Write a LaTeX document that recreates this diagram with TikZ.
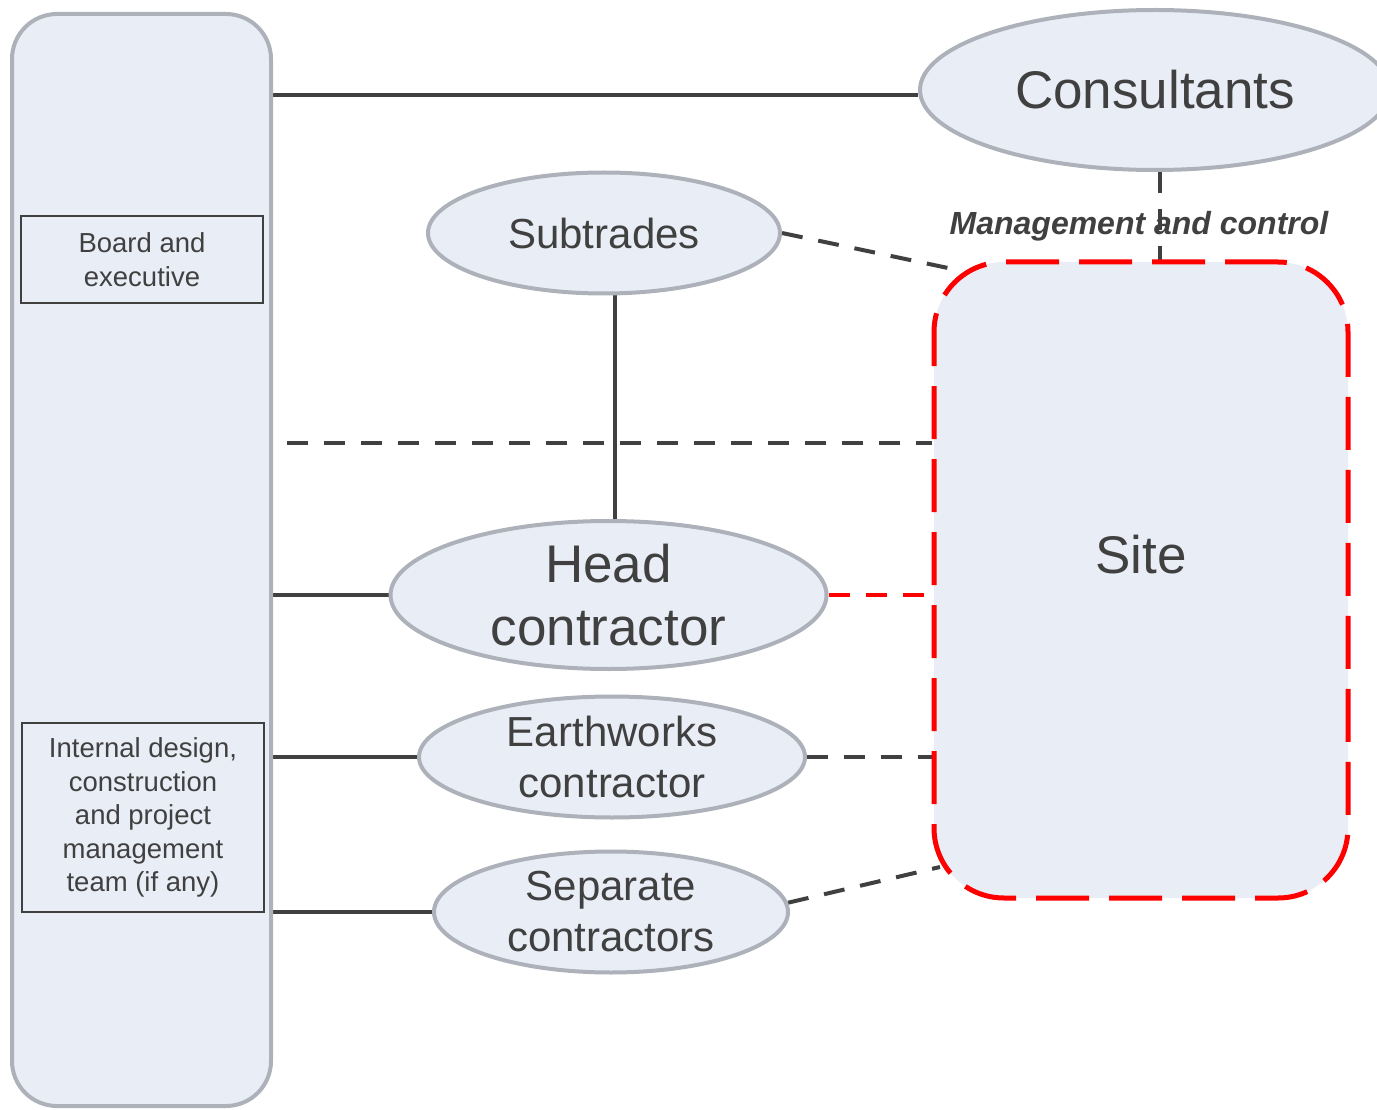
\documentclass[tikz,border=0pt]{standalone}
\usepackage{fontspec}
\setmainfont{Liberation Sans}
\usetikzlibrary{shapes.geometric,backgrounds}
\definecolor{fillc}{HTML}{E9EDF6}
\definecolor{edgec}{HTML}{ADB1B9}
\definecolor{darkc}{HTML}{404040}
\definecolor{redc}{HTML}{FF0000}
\tikzset{
 oval/.style={ellipse, draw=edgec, fill=fillc, line width=4pt, inner sep=0pt, text=darkc, align=center},
 panel/.style={rectangle, rounded corners=45pt, draw=edgec, fill=fillc, line width=4pt, inner sep=0pt},
 sitebox/.style={rectangle, rounded corners=70pt, draw=redc, fill=fillc, line width=5pt, inner sep=0pt, dash pattern=on 53pt off 20pt},
 textbox/.style={rectangle, draw=darkc, line width=1.5pt, text=darkc, align=center, inner sep=0pt},
 solidlink/.style={draw=darkc, line width=4pt},
 dashlink/.style={draw=darkc, line width=4pt, dash pattern=on 21pt off 16pt},
 reddash/.style={draw=redc, line width=4pt, dash pattern=on 21pt off 16pt},
 big/.style={font=\fontsize{53}{63}\selectfont},
 mid/.style={font=\fontsize{42}{51}\selectfont},
 small/.style={font=\fontsize{27.5}{33.6}\selectfont},
}
\begin{document}
\begin{tikzpicture}[x=1pt,y=-1pt]
\clip (0,0) rectangle (1377,1110);
% nodes
\node[panel, minimum width=259, minimum height=1092] (org) at (141.5,560) {};
\node[textbox, small, minimum width=242, minimum height=87] (board) at (142,259.5) {Board and\\executive};
\node[textbox, small, minimum width=242, minimum height=189] (internal) at (143,817.5) {Internal design,\\construction\\and project\\management\\team (if any)};
\node[sitebox, minimum width=414, minimum height=636] (site) at (1141,580) {};
\node[text=darkc, big] (sitetext) at (1141,555) {Site};
\node[oval, big, minimum width=470, minimum height=160] (cons) at (1155,90) {Consultants};
\node[oval, mid, minimum width=352, minimum height=121] (sub) at (604,233) {Subtrades};
\node[oval, big, minimum width=436, minimum height=148] (head) at (608.5,595) {Head\\contractor};
\node[oval, mid, minimum width=386, minimum height=121] (earth) at (612,757) {Earthworks\\contractor};
\node[oval, mid, minimum width=354, minimum height=121] (sep) at (611,912) {Separate\\contractors};
\node[text=darkc, font=\fontsize{32}{38}\selectfont\bfseries\itshape] (mgmt) at (1139,226) {Management and control};
% free ends
\coordinate (hd) at (287,443);
\coordinate (subend) at (948,268);
\coordinate (sepend) at (940,867);
% connectors
\begin{scope}[on background layer]
\draw[solidlink] ([yshift=-5pt]cons.west) -- ([yshift=-5pt]cons.west -| org.east);
\draw[solidlink] ([xshift=11pt]sub.south) -- ([xshift=11pt]sub.south |- head.north);
\draw[solidlink] (head.west) -- (head.west -| org.east);
\draw[solidlink] (earth.west) -- (earth.west -| org.east);
\draw[solidlink] (sep.west) -- (sep.west -| org.east);
\draw[dashlink] ([xshift=5pt]cons.south) -- ([xshift=5pt,yshift=-4pt]cons.south |- site.north);
\draw[dashlink] (sub.east) -- (subend);
\draw[dashlink] (hd) -- (hd -| site.west);
\draw[reddash] (head.east) -- (head.east -| site.west);
\draw[dashlink] (earth.east) -- (earth.east -| site.west);
\draw[dashlink] (sep.3) -- (sepend);
\end{scope}
\end{tikzpicture}
\end{document}
